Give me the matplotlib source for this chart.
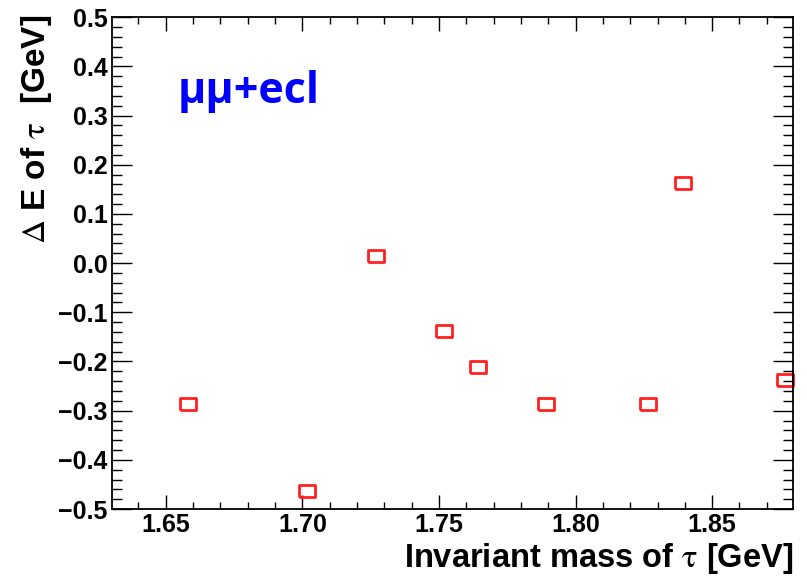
import numpy as np
import matplotlib
matplotlib.use("Agg")
import matplotlib.pyplot as plt
from matplotlib.ticker import MultipleLocator, FuncFormatter

plt.rcParams['mathtext.fontset'] = 'stix'

# Data
mass = [1.6581, 1.7017, 1.7269, 1.7518, 1.7642, 1.7893, 1.8267, 1.8393, 1.8765]
delta_e = [-0.287, -0.463, 0.014, -0.137, -0.212, -0.287, -0.287, 0.164, -0.238]

x_range = (1.6302, 1.8797)
y_range = (-0.5, 0.5)

fig = plt.figure(figsize=(8.07, 5.82), dpi=100)
ax = fig.add_axes([0.1384, 0.1254, 0.983 - 0.1384, 0.9703 - 0.1254])

# ROOT-like open box marker (stretched horizontally in the reference)
box = [(-1, -0.7), (1, -0.7), (1, 0.7), (-1, 0.7), (-1, -0.7)]
ax.plot(mass, delta_e, linestyle='none', marker=box, markersize=12,
        markerfacecolor='none', markeredgecolor='#ff2020', markeredgewidth=2.0,
        clip_on=False)

ax.set_xlim(*x_range)
ax.set_ylim(*y_range)

ax.xaxis.set_major_locator(MultipleLocator(0.05))
ax.xaxis.set_minor_locator(MultipleLocator(0.01))
ax.yaxis.set_major_locator(MultipleLocator(0.1))
ax.yaxis.set_minor_locator(MultipleLocator(0.02))
ax.xaxis.set_major_formatter(FuncFormatter(lambda v, p: f'{v:.2f}'))
ax.yaxis.set_major_formatter(FuncFormatter(lambda v, p: f'{v:.1f}'.replace('-', '\u2212')))

ax.tick_params(axis='both', which='both', direction='in', top=True, right=True,
               colors='black', width=1.0)
ax.tick_params(axis='x', which='major', length=10, pad=3)
ax.tick_params(axis='x', which='minor', length=5)
ax.tick_params(axis='y', which='major', length=14.5, pad=3)
ax.tick_params(axis='y', which='minor', length=7.2)

for lab in ax.get_xticklabels() + ax.get_yticklabels():
    lab.set_fontfamily('Liberation Sans')
    lab.set_fontweight('bold')
    lab.set_fontsize(18)

for s in ax.spines.values():
    s.set_linewidth(1.3)

ax.set_xlabel(r'Invariant mass of $\mathrm{\tau}$ [GeV]', fontsize=23.5,
              fontfamily='Liberation Sans', fontweight='bold', loc='right')
ax.xaxis.set_label_coords(1.0, -0.066)

ax.set_ylabel(r'$\mathrm{\Delta}$ E of $\mathrm{\tau}$  [GeV]', fontsize=24,
              fontfamily='Liberation Sans', fontweight='bold', loc='top')
ax.yaxis.set_label_coords(-0.085, 1.005)

ax.text(0.097, 0.825, 'μμ+ecl', transform=ax.transAxes, color='#0000ff',
        fontsize=31, fontfamily='Open Sans', fontweight='bold', va='baseline')

fig.savefig('out.png', dpi=100)
